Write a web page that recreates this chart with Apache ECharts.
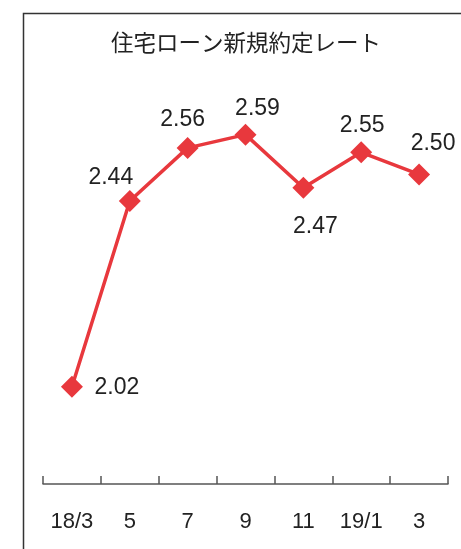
<!DOCTYPE html>
<html>
<head>
<meta charset="utf-8">
<script src="https://cdn.jsdelivr.net/npm/echarts@6/dist/echarts.min.js"></script>
<style>
  html, body { margin: 0; padding: 0; background: #fff; }
  #chart { width: 461px; height: 549px; }
</style>
</head>
<body>
<div id="chart"></div>
<script>
// Monthly new-contract mortgage rates (%)
const months = ['18/3', '5', '7', '9', '11', '19/1', '3'];
const rates = [2.02, 2.44, 2.56, 2.59, 2.47, 2.55, 2.50];
// Where each value label sits relative to its marker
const labelOffsets = [[45, 1], [-19, -23], [-5, -28], [12, -26], [12, 39], [1, -27], [14, -31]];

const RED = '#e8383d';

const chart = echarts.init(document.getElementById('chart'), null, { renderer: 'canvas' });

chart.setOption({
  animation: false,
  backgroundColor: '#fff',
  title: {
    text: '住宅ローン新規約定レート',
    left: 241,
    top: 26,
    textAlign: 'center',
    textStyle: {
      fontFamily: '"Noto Sans CJK JP", sans-serif',
      fontSize: 22.5,
      fontWeight: 'normal',
      color: '#222'
    }
  },
  graphic: [{
    type: 'polyline',
    shape: { points: [[23.5, 549], [23.5, 13.5], [461, 13.5]] },
    style: { stroke: '#333', lineWidth: 1.5, fill: null }
  }],
  grid: { left: 43, right: 13, top: 86, bottom: 65 },
  xAxis: {
    type: 'category',
    data: months,
    boundaryGap: true,
    axisLine: { show: true, lineStyle: { color: '#555', width: 1.5 } },
    axisTick: { show: true, inside: true, length: 8, lineStyle: { color: '#555', width: 1.5 } },
    axisLabel: {
      margin: 27,
      fontFamily: '"Liberation Sans", Arial, sans-serif',
      fontSize: 22,
      color: '#222'
    }
  },
  yAxis: {
    type: 'value',
    min: 1.8,
    max: 2.7,
    show: false
  },
  series: [{
    type: 'line',
    data: rates.map((v, i) => ({
      value: v,
      label: { offset: labelOffsets[i] }
    })),
    symbol: 'diamond',
    symbolSize: 22,
    lineStyle: { color: RED, width: 3.5 },
    itemStyle: { color: RED },
    label: {
      show: true,
      position: 'inside',
      formatter: p => p.value.toFixed(2),
      fontFamily: '"Liberation Sans", Arial, sans-serif',
      fontSize: 23,
      color: '#222'
    }
  }]
});
</script>
</body>
</html>
